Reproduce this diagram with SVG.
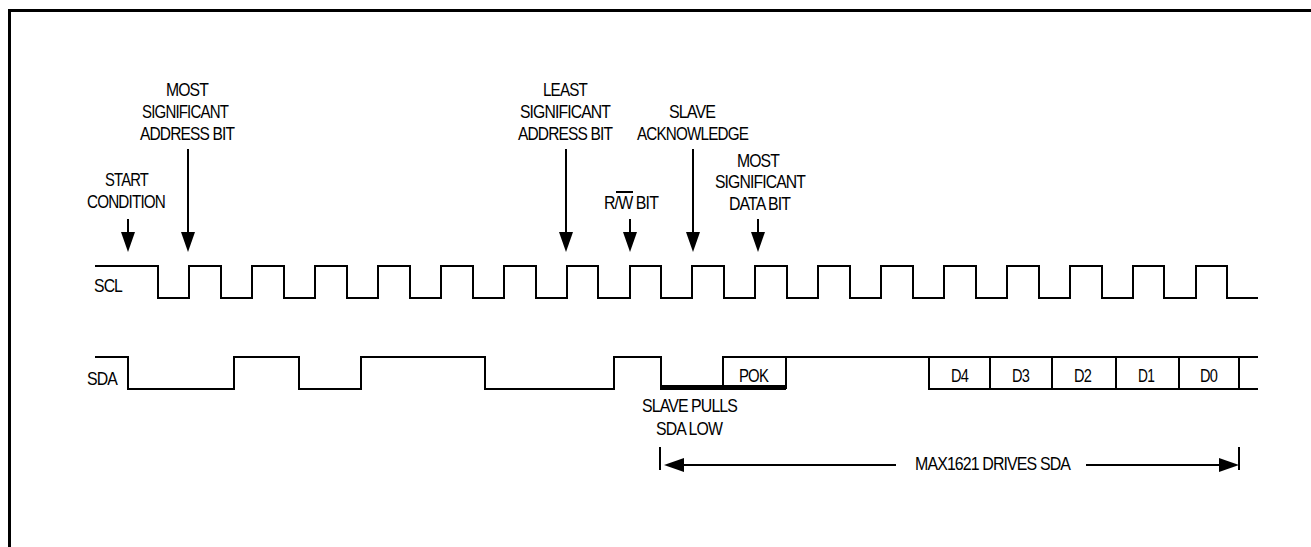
<svg xmlns="http://www.w3.org/2000/svg" width="1311" height="547" viewBox="0 0 1311 547">
<defs><marker id="ah" markerUnits="userSpaceOnUse" markerWidth="20" markerHeight="14" refX="8" refY="7" orient="auto" viewBox="0 0 20 14"><path d="M0 0L20 7L0 14Z" fill="#000"/></marker></defs>
<style>
text{font-family:"Liberation Sans",Arial,sans-serif;font-size:18px;fill:#000;letter-spacing:-1px}
.w{fill:none;stroke:#000;stroke-width:2}
.a{fill:none;stroke:#000;stroke-width:2;marker-end:url(#ah)}
</style>
<rect width="1311" height="547" fill="#fff"/>
<path id="frame" d="M9.5 547V10.5H1311" fill="none" stroke="#000" stroke-width="3"/>
<g id="connectors">
<path id="scl" class="w" d="M95 266H158V298H189V266H221V298H252V266H284V298H315V266H347V298H378V266H410V298H441V266H473V298H504V266H536V298H567V266H598V298H630V266H661V298H692V266H724V298H755V266H787V298H818V266H850V298H881V266H913V298H944V266H976V298H1007V266H1039V298H1070V266H1102V298H1133V266H1164V298H1196V266H1227V298H1258"/>
<path id="sda" class="w" d="M95 357H128V389H234V357H299V389H361V357H485V389H614V357H661V389H723V357H786V389M786 357H1258M929 357V389H1258M990 357V389M1052 357V389M1116 357V389M1179 357V389M1239 357V389"/>
<path id="pull" d="M661 387.5H786" fill="none" stroke="#000" stroke-width="5"/>
<path class="a" d="M128 219V240"/>
<path class="a" d="M188 149V240"/>
<path class="a" d="M566 149V240"/>
<path class="a" d="M630 219V240"/>
<path class="a" d="M693 149V240"/>
<path class="a" d="M758 219V240"/>
<path class="w" d="M660 447V470M1239 447V470"/>
<path class="a" d="M896 465H676"/>
<path class="a" d="M1086 465H1227"/>
</g>
<g id="labels">
<text x="166" y="96" textLength="42" lengthAdjust="spacingAndGlyphs">MOST</text>
<text x="142" y="118" textLength="86" lengthAdjust="spacingAndGlyphs">SIGNIFICANT</text>
<text x="140" y="140" textLength="94" lengthAdjust="spacingAndGlyphs">ADDRESS BIT</text>
<text x="105" y="186" textLength="43" lengthAdjust="spacingAndGlyphs">START</text>
<text x="87" y="208" textLength="78" lengthAdjust="spacingAndGlyphs">CONDITION</text>
<text x="543" y="96" textLength="44" lengthAdjust="spacingAndGlyphs">LEAST</text>
<text x="520" y="118" textLength="90" lengthAdjust="spacingAndGlyphs">SIGNIFICANT</text>
<text x="518" y="140" textLength="94" lengthAdjust="spacingAndGlyphs">ADDRESS BIT</text>
<text x="669" y="118" textLength="46" lengthAdjust="spacingAndGlyphs">SLAVE</text>
<text x="637" y="140" textLength="111" lengthAdjust="spacingAndGlyphs">ACKNOWLEDGE</text>
<text x="737" y="167" textLength="42" lengthAdjust="spacingAndGlyphs">MOST</text>
<text x="715" y="188" textLength="90" lengthAdjust="spacingAndGlyphs">SIGNIFICANT</text>
<text x="729" y="210" textLength="61" lengthAdjust="spacingAndGlyphs">DATA BIT</text>
<text x="604" y="209" textLength="54" lengthAdjust="spacingAndGlyphs">R/W BIT</text>
<path d="M616 192H633" stroke="#000" stroke-width="2"/>
<text x="94" y="292" textLength="28" lengthAdjust="spacingAndGlyphs">SCL</text>
<text x="87" y="385" textLength="30" lengthAdjust="spacingAndGlyphs">SDA</text>
<text x="739" y="382" textLength="29" lengthAdjust="spacingAndGlyphs">POK</text>
<text x="951" y="382" textLength="17" lengthAdjust="spacingAndGlyphs">D4</text>
<text x="1012" y="382" textLength="17" lengthAdjust="spacingAndGlyphs">D3</text>
<text x="1074" y="382" textLength="17" lengthAdjust="spacingAndGlyphs">D2</text>
<text x="1138" y="382" textLength="16" lengthAdjust="spacingAndGlyphs">D1</text>
<text x="1200" y="382" textLength="17" lengthAdjust="spacingAndGlyphs">D0</text>
<text x="642" y="412" textLength="95" lengthAdjust="spacingAndGlyphs">SLAVE PULLS</text>
<text x="656" y="435" textLength="66" lengthAdjust="spacingAndGlyphs">SDA LOW</text>
<text x="915" y="470" textLength="155" lengthAdjust="spacingAndGlyphs">MAX1621 DRIVES SDA</text>
</g>
</svg>
